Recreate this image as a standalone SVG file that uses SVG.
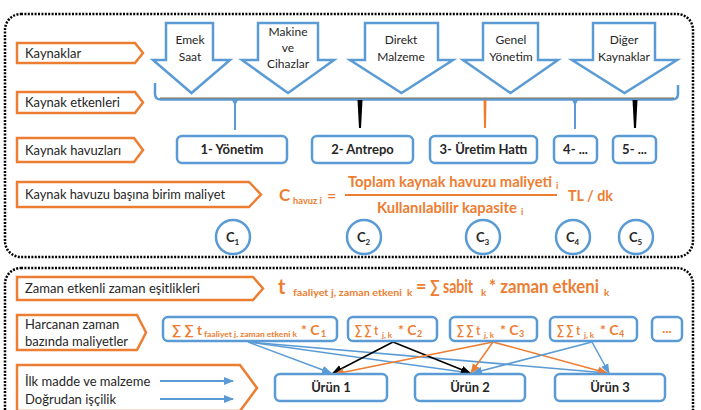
<svg xmlns="http://www.w3.org/2000/svg" width="701" height="410" viewBox="0 0 701 410">
<style>
.dot{fill:none;stroke:#000;stroke-width:2.5;stroke-dasharray:2 1.4}
.lab{fill:#fff;stroke:#ed7d31;stroke-width:2.5}
.bx{fill:#fff;stroke:#5b9bd5;stroke-width:2.5}
.t{font-family:Lato,"Open Sans","DejaVu Sans",sans-serif;fill:#262626}
.l{font-size:13px}
.a{font-size:12px;text-anchor:middle}
.b{font-size:13px;font-weight:bold;text-anchor:middle}
.o{font-family:Lato,"Open Sans","DejaVu Sans",sans-serif;fill:#ed7d31;font-weight:bold}
.bl{stroke:#5b9bd5;stroke-width:1.5;fill:none}
.bk{stroke:#000;stroke-width:1.5;fill:none}
.or{stroke:#ed7d31;stroke-width:1.5;fill:none}
</style>
<defs>
<marker id="mb" markerUnits="userSpaceOnUse" markerWidth="10" markerHeight="10" viewBox="0 0 10 10" refX="9" refY="5" orient="auto"><path d="M0,1 L10,5 L0,9 Z" fill="#5b9bd5"/></marker>
<marker id="mk" markerUnits="userSpaceOnUse" markerWidth="10" markerHeight="10" viewBox="0 0 10 10" refX="9" refY="5" orient="auto"><path d="M0,1 L10,5 L0,9 Z" fill="#000"/></marker>
<marker id="mo" markerUnits="userSpaceOnUse" markerWidth="10" markerHeight="10" viewBox="0 0 10 10" refX="9" refY="5" orient="auto"><path d="M0,1 L10,5 L0,9 Z" fill="#ed7d31"/></marker>
</defs>
<rect width="701" height="410" fill="#fff"/>
<rect class="dot" x="5" y="14" width="688" height="243" rx="16"/>
<rect class="dot" x="5" y="268" width="688" height="170" rx="16"/>

<g id="lbl-kaynaklar"><polygon class="lab" points="17,43 135,43 143,53 135,63 17,63"/><text class="t l" x="25" y="57.5">Kaynaklar</text></g>
<g id="lbl-etkenler"><polygon class="lab" points="17,92 135,92 143,102.5 135,113 17,113"/><text class="t l" x="25" y="107">Kaynak etkenleri</text></g>
<g id="lbl-havuzlar"><polygon class="lab" points="17,138 134,138 143,150 134,162 17,162"/><text class="t l" x="25" y="154.5">Kaynak havuzları</text></g>
<g id="lbl-birim"><polygon class="lab" points="17,182 249,182 261,194.5 249,207 17,207"/><text class="t l" x="25" y="199" textLength="200" lengthAdjust="spacingAndGlyphs">Kaynak havuzu başına birim maliyet</text></g>
<g id="lbl-zaman"><polygon class="lab" points="17,277 253,277 263,288.5 253,300 17,300"/><text class="t l" x="25" y="293" textLength="175" lengthAdjust="spacingAndGlyphs">Zaman etkenli zaman eşitlikleri</text></g>
<g id="lbl-harcanan"><polygon class="lab" points="17,315 137,315 146,332.5 137,350 17,350"/><text class="t l" x="25" y="329">Harcanan zaman</text><text class="t l" x="25" y="346">bazında maliyetler</text></g>
<g id="lbl-ilk"><polygon class="lab" points="17,365 240,365 257,388 240,411 17,411"/><text class="t l" x="25" y="385.5">İlk madde ve malzeme</text><text class="t l" x="25" y="403.5">Doğrudan işçilik</text></g>

<g id="res-emek"><polygon class="bx" points="166,23 213,23 213,60 230,60 191.5,93 153,60 166,60"/><text class="t a" x="190" y="44">Emek</text><text class="t a" x="190" y="61">Saat</text></g>
<g id="res-makine"><polygon class="bx" points="258,23 318,23 318,60 334,60 288,93 242,60 258,60"/><text class="t a" x="288" y="36">Makine</text><text class="t a" x="288" y="52">ve</text><text class="t a" x="288" y="68">Cihazlar</text></g>
<g id="res-direkt"><polygon class="bx" points="365,23 438,23 438,60 453,60 401.5,93 350,60 365,60"/><text class="t a" x="401" y="44">Direkt</text><text class="t a" x="401" y="61">Malzeme</text></g>
<g id="res-genel"><polygon class="bx" points="483,23 538,23 538,60 558,60 510.5,93 463,60 483,60"/><text class="t a" x="511" y="44">Genel</text><text class="t a" x="511" y="61">Yönetim</text></g>
<g id="res-diger"><polygon class="bx" points="593,23 655,23 655,60 677,60 624.5,93 572,60 593,60"/><text class="t a" x="624" y="44">Diğer</text><text class="t a" x="624" y="61">Kaynaklar</text></g>

<g id="connectors">
<path d="M155,83 L155,94 Q155,99.5 161,99.5 L672,99.5 Q678,99.5 678,94 L678,85" fill="none" stroke="#5b9bd5" stroke-width="2.5"/>
<line x1="160" y1="98" x2="674" y2="98" stroke="#5a4a2a" stroke-width="0.8"/>
<polygon points="232,100 238,100 236,104 236,130 234,130 234,104" fill="#5b9bd5"/>
<polygon points="357.5,100 362.5,100 361,128 359,128" fill="#000"/>
<polygon points="483.5,100 486.5,100 486,128 484,128" fill="#ed7d31"/>
<polygon points="572,100 578,100 576,104 576,129 574,129 574,104" fill="#5b9bd5"/>
<polygon points="632.5,100 637.5,100 636,128 634,128" fill="#000"/>

<line class="bl" x1="248" y1="342" x2="331" y2="373" marker-end="url(#mb)"/>
<line class="bl" x1="248" y1="342" x2="470" y2="373" marker-end="url(#mb)"/>
<line class="bl" x1="248" y1="342" x2="607" y2="373" marker-end="url(#mb)"/>
<line class="bk" x1="393" y1="342" x2="333" y2="373" marker-end="url(#mk)"/>
<line class="bk" x1="393" y1="342" x2="470" y2="373" marker-end="url(#mk)"/>
<line class="or" x1="493" y1="342" x2="335" y2="374" marker-end="url(#mo)"/>
<line class="or" x1="493" y1="342" x2="471" y2="373" marker-end="url(#mo)"/>
<line class="or" x1="493" y1="342" x2="607" y2="373" marker-end="url(#mo)"/>
<line class="bl" x1="592" y1="342" x2="473" y2="373" marker-end="url(#mb)"/>
<line class="bl" x1="592" y1="342" x2="609" y2="373" marker-end="url(#mb)"/>
<line x1="160" y1="381" x2="233" y2="381" stroke="#5b9bd5" stroke-width="2" marker-end="url(#mb)"/>
<line x1="160" y1="399" x2="233" y2="399" stroke="#5b9bd5" stroke-width="2" marker-end="url(#mb)"/>
</g>

<g id="pool-1"><rect class="bx" x="177" y="136" width="110" height="27" rx="5"/><text class="t b" x="232" y="154">1- Yönetim</text></g>
<g id="pool-2"><rect class="bx" x="312" y="136" width="101" height="27" rx="5"/><text class="t b" x="362.5" y="154">2- Antrepo</text></g>
<g id="pool-3"><rect class="bx" x="430" y="136" width="107" height="27" rx="5"/><text class="t b" x="483.5" y="154">3- Üretim Hattı</text></g>
<g id="pool-4"><rect class="bx" x="554" y="136" width="43" height="27" rx="5"/><text class="t b" x="575.5" y="154">4- ...</text></g>
<g id="pool-5"><rect class="bx" x="613" y="136" width="43" height="27" rx="5"/><text class="t b" x="634.5" y="154">5- ...</text></g>

<g id="formula-c">
<text class="o" x="279" y="201" font-size="17" font-weight="normal">C</text>
<text class="o" x="293" y="204" font-size="10" font-weight="normal" textLength="29" lengthAdjust="spacingAndGlyphs">havuz i</text>
<text class="o" x="327" y="201" font-size="16" font-weight="normal">=</text>
<line x1="345" y1="195" x2="557" y2="195" stroke="#ed7d31" stroke-width="2"/>
<text class="o" x="348" y="187" font-size="15" textLength="204" lengthAdjust="spacingAndGlyphs">Toplam kaynak havuzu maliyeti</text>
<text class="o" x="556" y="189" font-size="9">i</text>
<text class="o" x="377" y="212.5" font-size="15" textLength="140" lengthAdjust="spacingAndGlyphs">Kullanılabilir kapasite</text>
<text class="o" x="521" y="214.5" font-size="9">i</text>
<text class="o" x="568" y="201" font-size="15" textLength="45" lengthAdjust="spacingAndGlyphs">TL / dk</text>
</g>

<g id="c1"><circle class="bx" cx="233" cy="237" r="17"/><text class="t" x="226" y="242" font-size="13" font-weight="bold">C<tspan font-size="8" dy="3">1</tspan></text></g>
<g id="c2"><circle class="bx" cx="364" cy="237" r="17"/><text class="t" x="357" y="242" font-size="13" font-weight="bold">C<tspan font-size="8" dy="3">2</tspan></text></g>
<g id="c3"><circle class="bx" cx="483" cy="237" r="17"/><text class="t" x="476" y="242" font-size="13" font-weight="bold">C<tspan font-size="8" dy="3">3</tspan></text></g>
<g id="c4"><circle class="bx" cx="573" cy="237" r="17"/><text class="t" x="566" y="242" font-size="13" font-weight="bold">C<tspan font-size="8" dy="3">4</tspan></text></g>
<g id="c5"><circle class="bx" cx="636" cy="237" r="17"/><text class="t" x="629" y="242" font-size="13" font-weight="bold">C<tspan font-size="8" dy="3">5</tspan></text></g>

<g id="formula-t">
<text class="o" x="278" y="294" font-size="20">t</text>
<text class="o" x="293" y="295.5" font-size="10" textLength="109" lengthAdjust="spacingAndGlyphs">faaliyet j, zaman etkeni</text>
<text class="o" x="407" y="295.5" font-size="10">k</text>
<text class="o" x="416" y="293" font-size="18">=</text>
<text class="o" x="430" y="293" font-size="18" textLength="43" lengthAdjust="spacingAndGlyphs">∑ sabit</text>
<text class="o" x="481" y="296" font-size="10">k</text>
<text class="o" x="489" y="293" font-size="18" textLength="110" lengthAdjust="spacingAndGlyphs">* zaman etkeni</text>
<text class="o" x="604" y="296" font-size="10">k</text>
</g>

<g id="cost-1"><rect class="bx" x="163" y="317" width="174" height="24" rx="5"/>
<text class="o" x="172" y="335" font-size="14" textLength="30" lengthAdjust="spacingAndGlyphs">∑ ∑ t</text>
<text class="o" x="204" y="337" font-size="8" textLength="93" lengthAdjust="spacingAndGlyphs">faaliyet j, zaman etkeni k</text>
<text class="o" x="301" y="335" font-size="14">* C</text>
<text class="o" x="321" y="337" font-size="9">1</text></g>
<g id="cost-2"><rect class="bx" x="348" y="317" width="89" height="24" rx="5"/>
<text class="o" x="355" y="335" font-size="14" textLength="23" lengthAdjust="spacingAndGlyphs">∑ ∑ t</text>
<text class="o" x="382" y="337.5" font-size="8">j, k</text>
<text class="o" x="398" y="335" font-size="14">* C</text>
<text class="o" x="417" y="337" font-size="9">2</text></g>
<g id="cost-3"><rect class="bx" x="450" y="317" width="87" height="24" rx="5"/>
<text class="o" x="457" y="335" font-size="14" textLength="23" lengthAdjust="spacingAndGlyphs">∑ ∑ t</text>
<text class="o" x="484" y="337.5" font-size="8">j, k</text>
<text class="o" x="500" y="335" font-size="14">* C</text>
<text class="o" x="519" y="337" font-size="9">3</text></g>
<g id="cost-4"><rect class="bx" x="550" y="317" width="87" height="24" rx="5"/>
<text class="o" x="557" y="335" font-size="14" textLength="23" lengthAdjust="spacingAndGlyphs">∑ ∑ t</text>
<text class="o" x="584" y="337.5" font-size="8">j, k</text>
<text class="o" x="600" y="335" font-size="14">* C</text>
<text class="o" x="619" y="337" font-size="9">4</text></g>
<g id="cost-5"><rect class="bx" x="652" y="317" width="30" height="24" rx="5"/>
<text class="o" x="667" y="333" font-size="13" text-anchor="middle">...</text></g>

<g id="urun-1"><rect class="bx" x="275" y="374" width="112" height="27" rx="5"/><text class="t b" x="331" y="392">Ürün 1</text></g>
<g id="urun-2"><rect class="bx" x="415" y="374" width="110" height="27" rx="5"/><text class="t b" x="470" y="392">Ürün 2</text></g>
<g id="urun-3"><rect class="bx" x="555" y="374" width="110" height="27" rx="5"/><text class="t b" x="610" y="392">Ürün 3</text></g>
</svg>
